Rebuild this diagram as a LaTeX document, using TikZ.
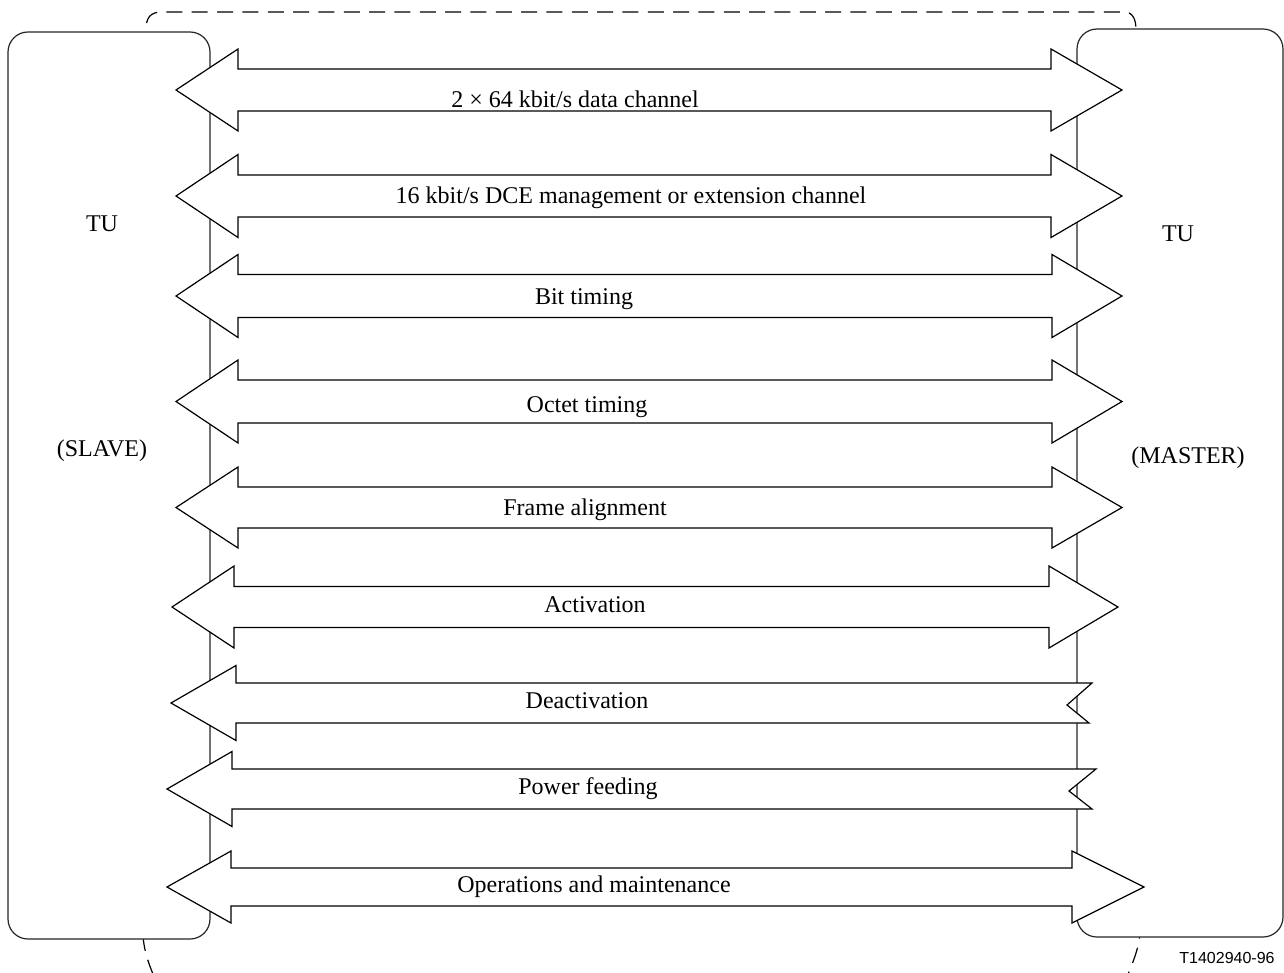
\documentclass[tikz,border=0pt]{standalone}
\usepackage{fontspec}
\setmainfont{Liberation Serif}
\newfontfamily\labelsans{Liberation Sans}
\begin{document}
\begin{tikzpicture}[x=0.75pt,y=-0.75pt,
  boxline/.style={draw=black!85, line width=0.9pt, fill=white, rounded corners=15pt},
  outline/.style={draw=black, line width=0.9pt, dash pattern=on 12pt off 7pt},
  arr/.style={draw=black, line width=0.9pt, fill=white, line join=miter},
  lbl/.style={anchor=base, inner sep=0pt, font=\fontsize{18}{21}\selectfont},
  tag/.style={anchor=base, inner sep=0pt, font=\labelsans\fontsize{12}{14}\selectfont}]
\useasboundingbox (0,0) rectangle (1284,973);
\clip (0,0) rectangle (1284,973);
% dashed outline
\draw[outline] (143,935) -- (146,30) .. controls (146,18) and (150,12) .. (162,12)
  -- (1124,12) .. controls (1132,12) and (1136,18) .. (1136,30) -- (1140,930)
  .. controls (1140,945) and (1134,962) .. (1120,992);
\draw[outline] (143,935) .. controls (144,952) and (149,966) .. (160,990);
% boxes
\draw[boxline] (8,32) rectangle (210,939);
\draw[boxline] (1077,29) rectangle (1283,937);
\node[lbl] (tuL) at (102,232) {TU};
\node[lbl] (slave) at (102,456) {(SLAVE)};
\node[lbl] (tuR) at (1178,242) {TU};
\node[lbl] (master) at (1188,463) {(MASTER)};
% double arrows: y, ltip, lback, rback, rtip, half head, half shaft
\newcommand\dblarr[7]{%
  \draw[arr] (#2,#1) -- (#3,#1-#6) -- (#3,#1-#7) -- (#4,#1-#7) -- (#4,#1-#6)
    -- (#5,#1) -- (#4,#1+#6) -- (#4,#1+#7) -- (#3,#1+#7) -- (#3,#1+#6) -- cycle;}
% notched arrows: y, ltip, lback, top-right x, notch x, bottom-right x, half head, half shaft
\newcommand\notcharr[8]{%
  \draw[arr] (#2,#1) -- (#3,#1-#7) -- (#3,#1-#8) -- (#4,#1-#8) -- (#5,#1+2)
    -- (#6,#1+#8) -- (#3,#1+#8) -- (#3,#1+#7) -- cycle;}
\dblarr{90}{176}{238}{1051}{1122}{41}{21}
\dblarr{196}{176}{238}{1051}{1122}{41.5}{21}
\dblarr{296}{176}{238}{1052}{1122}{41.5}{21.5}
\dblarr{401.5}{176}{238}{1052}{1122}{41.5}{21.5}
\dblarr{507.5}{176}{238}{1052}{1122}{40.5}{20.5}
\dblarr{607}{172}{234}{1049}{1118}{41}{20.5}
\notcharr{703}{171}{236}{1092}{1067}{1089}{37.5}{20}
\notcharr{789}{167}{232}{1096}{1069}{1092}{37.5}{20}
\dblarr{887}{167}{231}{1072}{1144}{36}{19}
% labels
\node[lbl] (c1) at (575,108) {2 × 64 kbit/s data channel};
\node[lbl] (c2) at (631,204) {16 kbit/s DCE management or extension channel};
\node[lbl] (c3) at (584,305) {Bit timing};
\node[lbl] (c4) at (587,412) {Octet timing};
\node[lbl] (c5) at (585,515) {Frame alignment};
\node[lbl] (c6) at (595,612) {Activation};
\node[lbl] (c7) at (587,708) {Deactivation};
\node[lbl] (c8) at (588,794) {Power feeding};
\node[lbl] (c9) at (594,892) {Operations and maintenance};
\node[tag] (ref) at (1227,963) {T1402940-96};
\end{tikzpicture}
\end{document}
